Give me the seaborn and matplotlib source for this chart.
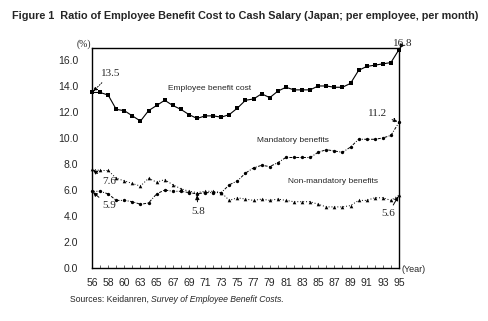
import numpy as np
import pandas as pd
import matplotlib
matplotlib.use("Agg")
import matplotlib.pyplot as plt
import seaborn as sns

# ---- data ----
year_labels = ["56", "58", "60", "63", "65", "67", "69", "71", "73", "75",
               "77", "79", "81", "83", "85", "87", "89", "91", "93", "95"]
employee_benefit_cost = [13.5, 13.5, 13.3, 12.2, 12.1, 11.7, 11.3, 12.1, 12.5, 12.9,
                         12.5, 12.2, 11.8, 11.5, 11.7, 11.7, 11.6, 11.8, 12.3, 12.9,
                         13.0, 13.4, 13.1, 13.6, 13.9, 13.7, 13.7, 13.7, 14.0, 14.0,
                         13.9, 13.9, 14.2, 15.2, 15.5, 15.6, 15.7, 15.8, 16.8]
mandatory_benefits = [5.9, 5.9, 5.7, 5.2, 5.2, 5.1, 4.9, 5.0, 5.7, 6.0,
                      5.9, 5.9, 5.8, 5.7, 5.8, 5.8, 5.8, 6.4, 6.7, 7.3,
                      7.7, 7.9, 7.8, 8.1, 8.5, 8.5, 8.5, 8.5, 8.9, 9.1,
                      9.0, 8.9, 9.3, 9.9, 9.9, 9.9, 10.0, 10.2, 11.2]
non_mandatory_benefits = [7.6, 7.5, 7.5, 6.9, 6.7, 6.5, 6.3, 6.9, 6.6, 6.8,
                          6.4, 6.1, 5.9, 5.8, 5.9, 5.9, 5.8, 5.2, 5.4, 5.3,
                          5.2, 5.3, 5.2, 5.3, 5.2, 5.1, 5.1, 5.1, 4.9, 4.7,
                          4.7, 4.7, 4.8, 5.2, 5.2, 5.4, 5.4, 5.2, 5.6]
y_ticks = [0, 2, 4, 6, 8, 10, 12, 14, 16]

idx = np.arange(len(employee_benefit_cost))
df = pd.DataFrame({"i": idx, "ebc": employee_benefit_cost,
                   "mand": mandatory_benefits, "nonm": non_mandatory_benefits})

sns.set_theme(style="white")
plt.rcParams["font.family"] = ["Liberation Sans", "DejaVu Sans"]

W, H = 489, 321
fig = plt.figure(figsize=(W/100, H/100), dpi=100)
ax = fig.add_axes([92/W, 1-268/H, (399-92)/W, (268-48)/H])

sns.lineplot(data=df, x="i", y="ebc", ax=ax, color="black", linewidth=0.8,
             marker="s", markersize=2.3, markeredgewidth=0, clip_on=False)
sns.lineplot(data=df, x="i", y="mand", ax=ax, color="black", linewidth=0.7,
             linestyle=(0, (3, 1.5, 1, 1.5)), marker="o", markersize=2.4,
             markeredgewidth=0, clip_on=False)
sns.lineplot(data=df, x="i", y="nonm", ax=ax, color="black", linewidth=0.7,
             linestyle=(0, (1, 2)), marker="^", markersize=2.6,
             markeredgewidth=0, clip_on=False)

ax.set_xlim(0, len(idx) - 1)
ax.set_ylim(0, 16.92)
ax.set_xlabel("")
ax.set_ylabel("")
narrow = ["Liberation Sans Narrow", "Liberation Sans"]
ax.set_yticks(y_ticks)
ax.set_yticklabels([f"{v:.1f}" for v in y_ticks], fontsize=7.5, family=narrow)
ax.set_xticks(idx[::2])
ax.set_xticklabels(year_labels, fontsize=7.5, family=narrow)
ax.set_xticks(idx, minor=True)
ax.tick_params(axis="x", which="both", direction="in", length=2, width=0.5,
               bottom=True, pad=7)
ax.tick_params(axis="y", left=False, pad=4)
for s in ax.spines.values():
    s.set_color("black")
    s.set_linewidth(1.0)

serif = ["Liberation Serif", "DejaVu Serif"]
aprops = dict(arrowstyle="-|>", color="black", lw=0.7, mutation_scale=6,
              shrinkA=1, shrinkB=1)


def note(text, x, y, px, py, ha="left", dotted=False):
    props = dict(aprops)
    if dotted:
        props["linestyle"] = ":"
    ax.annotate(text, xy=(x, y), xytext=(px, H - py), textcoords="figure pixels",
                fontsize=8, family=serif, ha=ha, va="center", arrowprops=props)


note("13.5", 0, employee_benefit_cost[0], 101, 74, dotted=True)
note("7.6", 0, non_mandatory_benefits[0], 102, 182)
note("5.9", 0, mandatory_benefits[0], 102, 206)
note("5.8", 13, mandatory_benefits[13], 198, 211, ha="center")
note("11.2", 38, mandatory_benefits[38], 378, 114, ha="center", dotted=True)
note("16.8", 38, employee_benefit_cost[38], 403, 43, ha="center")
note("5.6", 38, non_mandatory_benefits[38], 388, 214, ha="center")

fig.text(168/W, 1-89/H, "Employee benefit cost", fontsize=6, ha="left", va="center")
fig.text(257/W, 1-141/H, "Mandatory benefits", fontsize=6, ha="left", va="center")
fig.text(288/W, 1-182/H, "Non-mandatory benefits", fontsize=6, ha="left", va="center")
fig.text(91/W, 1-44/H, "(%)", fontsize=7, ha="right", va="center", family=serif)
fig.text(402/W, 1-270/H, "(Year)", fontsize=6.5, ha="left", va="center")

fig.text(12/W, 1-16/H,
         "Figure 1  Ratio of Employee Benefit Cost to Cash Salary (Japan; per employee, per month)",
         fontsize=7.8, fontweight="bold", ha="left", va="center")
t1 = fig.text(70/W, 1-299/H, "Sources: Keidanren, ", fontsize=6.2, ha="left", va="center")
fig.canvas.draw()
bb = t1.get_window_extent()
fig.text(bb.x1/W, 1-299/H, "Survey of Employee Benefit Costs.", fontsize=6.2,
         style="italic", ha="left", va="center")

fig.savefig("out.png", dpi=100)
